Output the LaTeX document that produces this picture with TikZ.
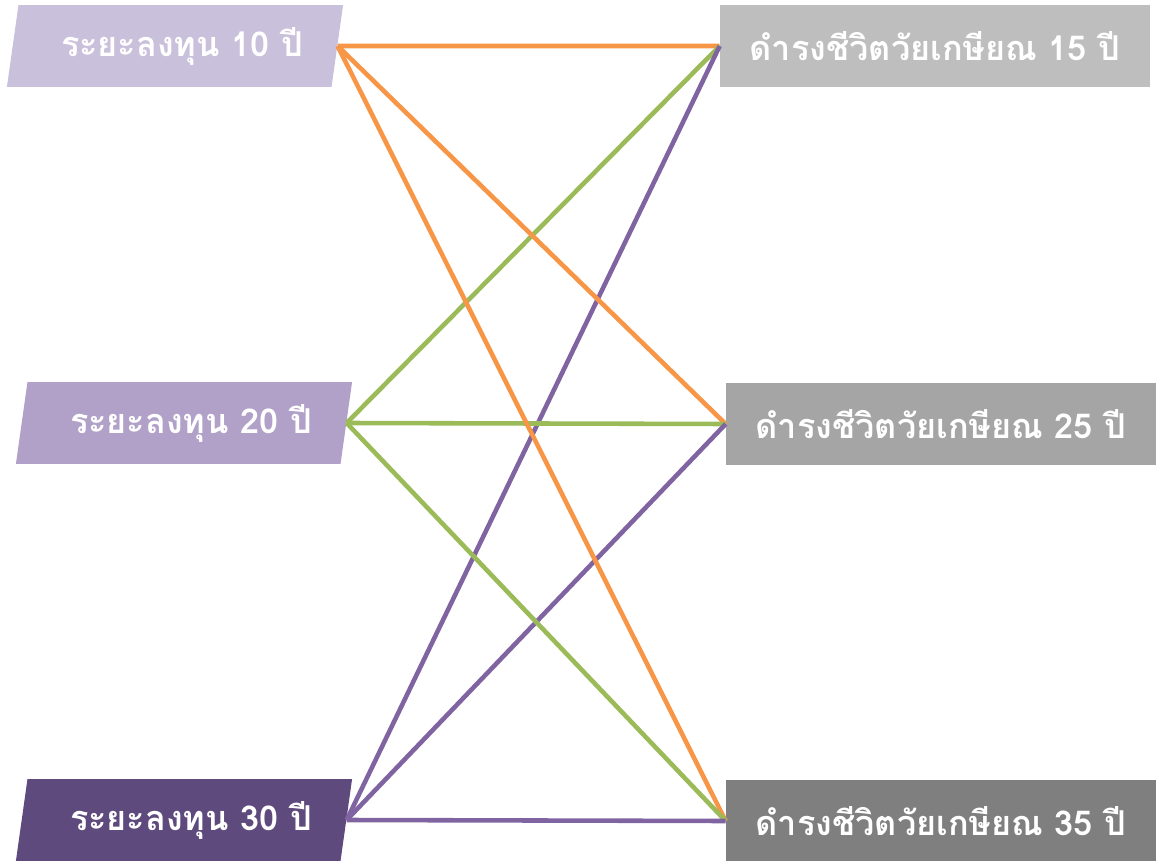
\documentclass[tikz,border=0pt]{standalone}
\usepackage{fontspec}
\newfontfamily\thaifont[Script=Thai]{Loma}
\usepackage{xcolor}
\usetikzlibrary{shapes.geometric}

\definecolor{inva}{HTML}{C9C0DB}
\definecolor{invb}{HTML}{B1A1C8}
\definecolor{invc}{HTML}{5F4A7E}
\definecolor{reta}{HTML}{BEBEBE}
\definecolor{retb}{HTML}{A5A5A5}
\definecolor{retc}{HTML}{7F7F7F}
\definecolor{linka}{HTML}{F79646}
\definecolor{linkb}{HTML}{9BBB59}
\definecolor{linkc}{HTML}{8064A2}

\tikzset{
  boxtext/.style={text=white, font=\thaifont\bfseries\fontsize{19.5}{22}\selectfont, inner sep=0pt},
  invbox/.style={boxtext, trapezium, trapezium left angle=76, trapezium right angle=104,
    trapezium stretches=true, minimum width=6.74cm, minimum height=1.64cm},
  retbox/.style={boxtext, rectangle, minimum width=8.6cm, minimum height=1.66cm},
  link/.style={line width=2.6pt}
}

\begin{document}
\begin{tikzpicture}[x=0.02cm, y=-0.02cm]
  \useasboundingbox (0,0) rectangle (1160,861);
  \node[invbox, fill=inva] (inv10) at (175,46) {\hspace*{8pt}ระยะลงทุน 10 ปี};
  \node[invbox, fill=invb] (inv20) at (184,423) {\hspace*{8pt}ระยะลงทุน 20 ปี};
  \node[invbox, fill=invc] (inv30) at (184,820) {\hspace*{8pt}ระยะลงทุน 30 ปี};
  \node[retbox, fill=reta] (ret15) at (935,46) {ดำรงชีวิตวัยเกษียณ 15 ปี};
  \node[retbox, fill=retb] (ret25) at (941,424) {ดำรงชีวิตวัยเกษียณ 25 ปี};
  \node[retbox, fill=retc] (ret35) at (941,821) {ดำรงชีวิตวัยเกษียณ 35 ปี};
  \foreach \r in {ret15, ret25, ret35} {
    \draw[link, linka] (inv10.east) -- (\r.west);
    \draw[link, linkb] (inv20.east) -- (\r.west);
    \draw[link, linkc] (inv30.east) -- (\r.west);
  }
\end{tikzpicture}
\end{document}
